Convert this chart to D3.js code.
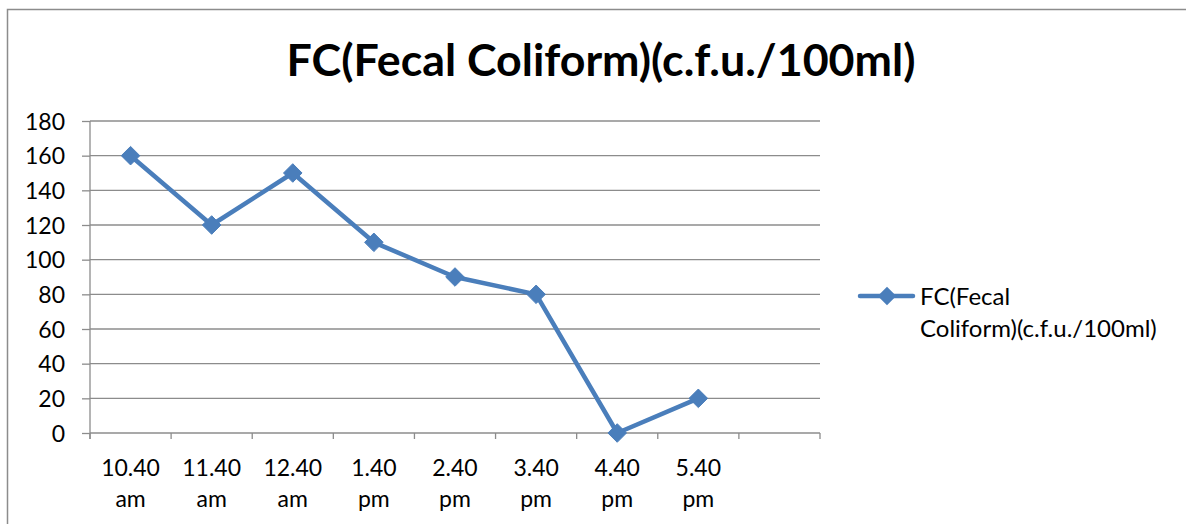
<!DOCTYPE html>
<html>
<head>
<meta charset="utf-8">
<script src="https://cdn.jsdelivr.net/npm/d3@7"></script>
<style>
  html, body { margin: 0; padding: 0; background: #fff; }
  svg { display: block; }
  text { font-family: Lato, "Open Sans", "DejaVu Sans", sans-serif; fill: #000; }
</style>
</head>
<body>
<svg id="chart" width="1186" height="524"></svg>
<script>
// Sampling times (the last slot on the axis is left empty)
const categories = ["10.40 am", "11.40 am", "12.40 am", "1.40 pm", "2.40 pm", "3.40 pm", "4.40 pm", "5.40 pm", ""];
const fcValues = [160, 120, 150, 110, 90, 80, 0, 20];
const yTicks = [0, 20, 40, 60, 80, 100, 120, 140, 160, 180];
const seriesName = ["FC(Fecal", "Coliform)(c.f.u./100ml)"];
const titleText = "FC(Fecal Coliform)(c.f.u./100ml)";

const svg = d3.select("#chart");
const W = 1186, H = 524;
const plot = { left: 90, right: 820, top: 121, bottom: 433 };
const lineColor = "#4a7ebb";
const gridColor = "#8c8c8c";
const labelSize = "23px";

// Outer chart frame
svg.append("rect")
  .attr("x", 7.5).attr("y", 9.5)
  .attr("width", W + 20).attr("height", H + 20)
  .attr("fill", "none").attr("stroke", "#8c8c8c").attr("stroke-width", 1.5);

// Title, sized to span its box
const title = svg.append("text")
  .attr("x", 601).attr("y", 76)
  .attr("text-anchor", "middle")
  .style("font-size", "36px").style("font-weight", "bold")
  .text(titleText);
const tw = title.node().getComputedTextLength();
title.style("font-size", (36 * 629 / tw).toFixed(2) + "px");

// Scales
const x = d3.scaleBand().domain(categories.map((c, i) => i))
  .range([plot.left, plot.right]).paddingInner(0).paddingOuter(0);
const y = d3.scaleLinear().domain([0, 180]).range([plot.bottom, plot.top]);

// Horizontal gridlines
svg.append("g").selectAll("line").data(yTicks.filter(d => d > 0)).join("line")
  .attr("x1", plot.left).attr("x2", plot.right)
  .attr("y1", d => y(d)).attr("y2", d => y(d))
  .attr("stroke", gridColor).attr("stroke-width", 1.3);

// Y axis
const yAxis = svg.append("g")
  .attr("transform", `translate(${plot.left},0)`)
  .call(d3.axisLeft(y).tickValues(yTicks).tickSize(8).tickPadding(17));
yAxis.attr("font-size", null).attr("font-family", null);
yAxis.select(".domain").attr("stroke", gridColor).attr("stroke-width", 1.3)
  .attr("d", `M0,${plot.top}V${plot.bottom + 6}`);
yAxis.selectAll(".tick line").attr("stroke", gridColor).attr("stroke-width", 1.3);
yAxis.selectAll(".tick text")
  .style("font-size", labelSize)
  .attr("fill", "#000").attr("dy", "0.36em");

// X axis: ticks at slot boundaries, labels centred in slots
const bounds = d3.range(categories.length + 1).map(i => plot.left + i * x.step());
const xg = svg.append("g");
xg.append("line")
  .attr("x1", plot.left).attr("x2", plot.right)
  .attr("y1", plot.bottom).attr("y2", plot.bottom)
  .attr("stroke", gridColor).attr("stroke-width", 1.3);
xg.selectAll("line.tk").data(bounds).join("line").attr("class", "tk")
  .attr("x1", d => d).attr("x2", d => d)
  .attr("y1", plot.bottom).attr("y2", plot.bottom + 6)
  .attr("stroke", gridColor).attr("stroke-width", 1.3);
xg.selectAll("text.cat").data(categories.map((c, i) => ({ c, i }))).join("text")
  .attr("class", "cat")
  .attr("text-anchor", "middle")
  .style("font-size", labelSize)
  .each(function(d) {
    const parts = d.c.split(" ");
    const t = d3.select(this);
    parts.forEach((p, k) => {
      if (!p) return;
      t.append("tspan")
        .attr("x", x(d.i) + x.bandwidth() / 2)
        .attr("y", 476 + k * 31)
        .text(p);
    });
  });

// Series line
const pts = fcValues.map((v, i) => [x(i) + x.bandwidth() / 2, y(v)]);
svg.append("path")
  .attr("d", d3.line()(pts))
  .attr("fill", "none").attr("stroke", lineColor)
  .attr("stroke-width", 4.5).attr("stroke-linejoin", "round");

// Diamond markers
const diamond = d3.symbol().type(d3.symbolDiamond2).size(220);
svg.append("g").selectAll("path").data(pts).join("path")
  .attr("transform", d => `translate(${d[0]},${d[1]})`)
  .attr("d", diamond)
  .attr("fill", lineColor).attr("stroke", lineColor).attr("stroke-width", 1);

// Legend
const lg = svg.append("g");
lg.append("line").attr("x1", 860).attr("x2", 913).attr("y1", 296).attr("y2", 296)
  .attr("stroke", lineColor).attr("stroke-width", 4.5).attr("stroke-linecap", "round");
lg.append("path").attr("transform", "translate(887,296)").attr("d", diamond)
  .attr("fill", lineColor);
const lt = lg.append("text").style("font-size", "24px");
seriesName.forEach((s, k) => {
  lt.append("tspan").attr("x", 920).attr("y", 305 + k * 32).text(s);
});
</script>
</body>
</html>
